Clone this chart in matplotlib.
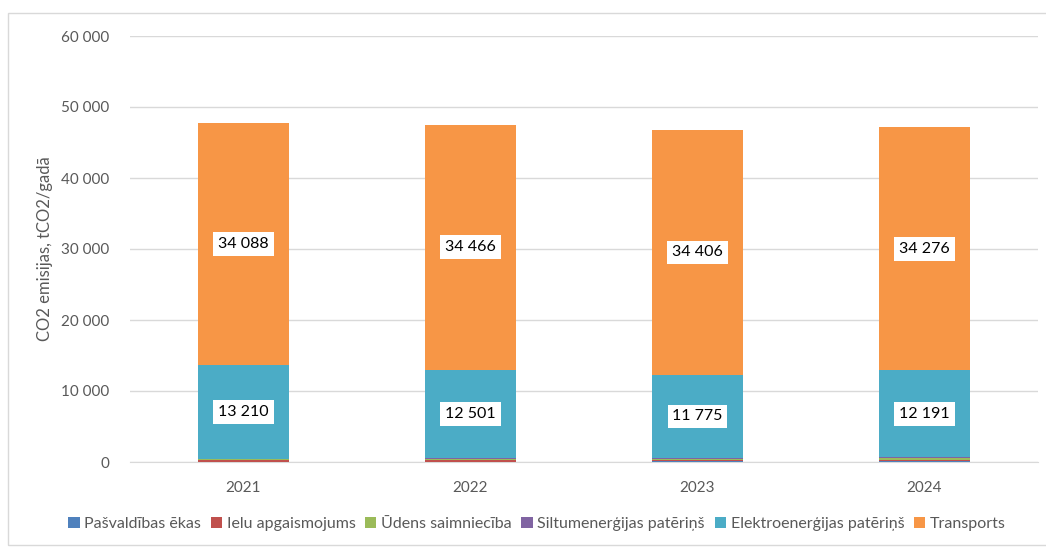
import matplotlib
matplotlib.use("Agg")
import matplotlib.pyplot as plt
from matplotlib.patches import Rectangle
import numpy as np

plt.rcParams['font.family'] = ['Lato', 'DejaVu Sans']

years = ["2021", "2022", "2023", "2024"]
series_names = ["Pašvaldības ēkas", "Ielu apgaismojums", "Ūdens saimniecība",
                "Siltumenerģijas patēriņš", "Elektroenerģijas patēriņš", "Transports"]
pasvaldibas = [40, 40, 120, 150]
ielu = [250, 250, 130, 120]
udens = [150, 200, 150, 300]
siltum = [20, 20, 130, 130]
elektro = [13210, 12501, 11775, 12191]
transports = [34088, 34466, 34406, 34276]
colors = ["#4F81BD", "#C0504D", "#9BBB59", "#8064A2", "#4BACC6", "#F79646"]

data = [pasvaldibas, ielu, udens, siltum, elektro, transports]

fig = plt.figure(figsize=(10.46, 5.47), dpi=100)
ax = fig.add_axes([130/1046, 85/547, 908/1046, 426/547])

x = np.arange(len(years))
bottom = np.zeros(len(years))
for name, vals, c in zip(series_names, data, colors):
    vals = np.array(vals, dtype=float)
    ax.bar(x, vals, 0.4, bottom=bottom, color=c, label=name, zorder=3)
    if name in ("Elektroenerģijas patēriņš", "Transports"):
        for xi, b, v in zip(x, bottom, vals):
            ax.text(xi, b + v / 2, f"{int(v):,}".replace(",", " "), ha="center", va="center",
                    fontsize=11.5, color="black", zorder=5,
                    bbox=dict(boxstyle="square,pad=0.3", fc="white", ec="none"))
    bottom += vals

ax.set_xlim(-0.5, 3.5)
ax.set_ylim(0, 60000)
ax.set_yticks(np.arange(0, 60001, 10000))
ax.set_yticklabels([f"{v:,}".replace(",", " ") for v in range(0, 60001, 10000)])
ax.set_xticks(x)
ax.set_xticklabels(years)
ax.tick_params(axis="both", length=0, labelsize=11, colors="#595959")
ax.tick_params(axis="y", pad=15)
ax.tick_params(axis="x", pad=14)
ax.grid(axis="y", color="#D9D9D9", linewidth=1, zorder=0)
for s in ["top", "right", "left"]:
    ax.spines[s].set_visible(False)
ax.spines["bottom"].set_color("#D9D9D9")
ax.set_ylabel("CO2 emisijas, tCO2/gadā", fontsize=12, color="#595959", labelpad=6)

fig.legend(loc="center", bbox_to_anchor=(537/1046, 1 - 524/547), ncol=6, frameon=False,
           fontsize=11.5, handlelength=0.7, handleheight=0.7, handletextpad=0.3,
           columnspacing=0.6, labelcolor="#595959")

fig.patches.append(Rectangle((8/1046, 2/547), 1100/1046, 532/547, transform=fig.transFigure,
                             fill=False, ec="#D9D9D9", lw=1))

fig.savefig("out.png", dpi=100)
